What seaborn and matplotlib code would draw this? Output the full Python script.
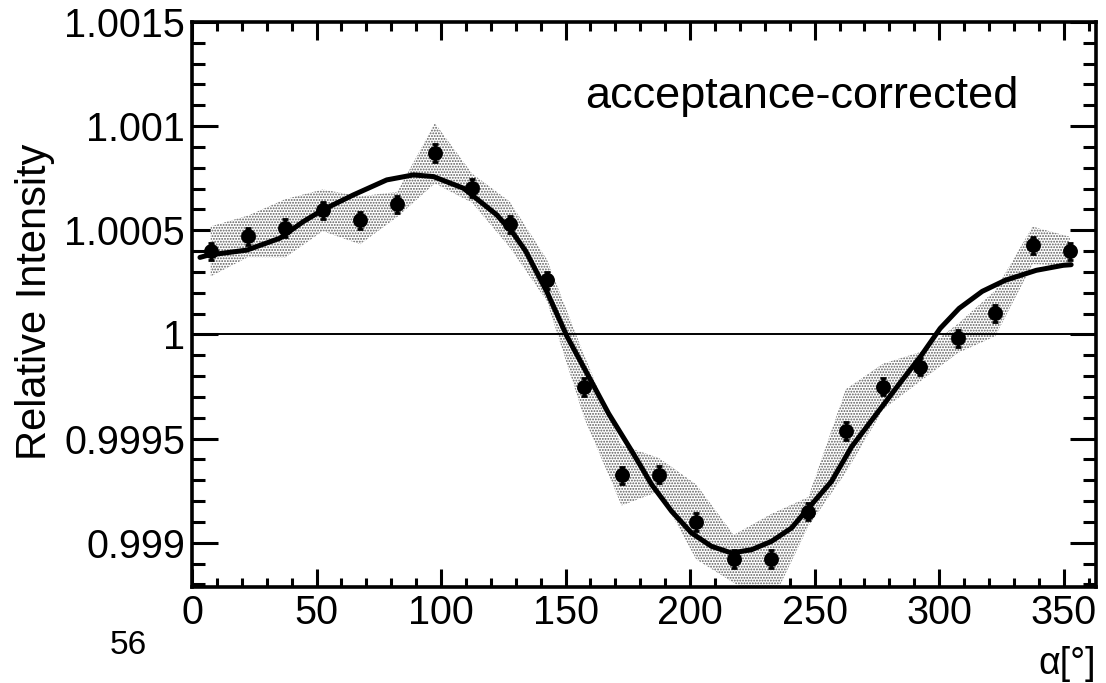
import matplotlib
matplotlib.use("Agg")
import matplotlib.pyplot as plt
import numpy as np
import pandas as pd
import seaborn as sns
from matplotlib.ticker import MultipleLocator, FixedLocator, FixedFormatter

# Measured relative intensity per 15-degree bin in alpha
alpha_deg = [7.5, 22.5, 37.5, 52.5, 67.5, 82.5, 97.5, 112.5, 127.5, 142.5, 157.5, 172.5,
             187.5, 202.5, 217.5, 232.5, 247.5, 262.5, 277.5, 292.5, 307.5, 322.5, 337.5, 352.5]
intensity = [1.000399, 1.000471, 1.000510, 1.000596, 1.000548, 1.000625, 1.000870, 1.000702,
             1.000529, 1.000260, 0.999749, 0.999324, 0.999327, 0.999100, 0.998923, 0.998923,
             0.999150, 0.999537, 0.999750, 0.999846, 0.999981, 1.000101, 1.000428, 1.000399]
stat_err = [0.000042, 0.000042, 0.000042, 0.000042, 0.000042, 0.000042, 0.000042, 0.000042,
            0.000042, 0.000042, 0.000042, 0.000042, 0.000042, 0.000042, 0.000042, 0.000042,
            0.000042, 0.000042, 0.000042, 0.000042, 0.000042, 0.000042, 0.000042, 0.000042]
sys_err = [0.000120, 0.000100, 0.000140, 0.000100, 0.000115, 0.000060, 0.000145, 0.000070,
           0.000110, 0.000100, 0.000150, 0.000145, 0.000080, 0.000180, 0.000115, 0.000215,
           0.000070, 0.000200, 0.000110, 0.000070, 0.000070, 0.000110, 0.000090, 0.000070]

# Fitted curve, sampled along alpha
fit_alpha = [3.2, 6.5, 22.0, 35.3, 44.7, 52.5, 64.8, 78.2, 88.9, 96.9, 109.0, 122.4, 129.0,
             134.0, 142.5, 150.6, 159.3, 167.3, 176.6, 184.6, 192.6, 200.6, 208.6, 216.7,
             224.7, 232.7, 240.7, 248.7, 256.8, 264.8, 274.3, 283.5, 292.8, 300.4, 308.0,
             317.3, 326.5, 339.0, 349.8, 353.0]
fit_value = [1.000370, 1.000381, 1.000405, 1.000462, 1.000542, 1.000598, 1.000670, 1.000742,
             1.000766, 1.000758, 1.000702, 1.000574, 1.000485, 1.000400, 1.000205, 0.999990,
             0.999798, 0.999620, 0.999440, 0.999279, 0.999151, 0.999047, 0.998983, 0.998951,
             0.998967, 0.999007, 0.999071, 0.999183, 0.999295, 0.999460, 0.999610, 0.999755,
             0.999899, 1.000029, 1.000125, 1.000207, 1.000260, 1.000308, 1.000332, 1.000335]

y_ticks = [0.999, 0.9995, 1.0, 1.0005, 1.001, 1.0015]
y_tick_labels = ["0.999", "0.9995", "1", "1.0005", "1.001", "1.0015"]
x_ticks = [0, 50, 100, 150, 200, 250, 300, 350]

points = pd.DataFrame({"alpha": alpha_deg, "intensity": intensity,
                       "stat": stat_err, "sys": sys_err})
fit = pd.DataFrame({"alpha": fit_alpha, "value": fit_value})

sns.set_theme(style="ticks")
plt.rcParams["font.family"] = ["Liberation Sans", "DejaVu Sans"]
plt.rcParams["hatch.linewidth"] = 0.9
for key in ["text.color", "axes.labelcolor", "xtick.color", "ytick.color", "axes.edgecolor"]:
    plt.rcParams[key] = "black"

fig = plt.figure(figsize=(11.06, 6.83), dpi=100)
ax = fig.add_axes([0.1736, 0.1406, 0.8174, 0.8272])

# systematic band, stippled
ax.fill_between(points["alpha"], points["intensity"] - points["sys"],
                points["intensity"] + points["sys"],
                facecolor="white", edgecolor="#5a5a5a", hatch="......",
                linewidth=0, zorder=1)

ax.axhline(1.0, color="black", lw=1.4, zorder=2)

sns.lineplot(data=fit, x="alpha", y="value", sort=False, color="black",
             lw=3.6, ax=ax, zorder=3, solid_joinstyle="round", solid_capstyle="round")

ax.errorbar(points["alpha"], points["intensity"], yerr=points["stat"], fmt="none",
            ecolor="black", elinewidth=2.0, capsize=2.5, capthick=2.0, zorder=4)
sns.scatterplot(data=points, x="alpha", y="intensity", color="black", s=115,
                marker="o", edgecolor="black", linewidth=0, ax=ax, zorder=5)

ax.set_xlim(0, 363)
ax.set_ylim(0.998788, 1.0015)

ax.xaxis.set_major_locator(FixedLocator(x_ticks))
ax.xaxis.set_minor_locator(MultipleLocator(10))
ax.yaxis.set_major_locator(FixedLocator(y_ticks))
ax.yaxis.set_major_formatter(FixedFormatter(y_tick_labels))
ax.yaxis.set_minor_locator(MultipleLocator(0.0001))

ax.tick_params(axis="both", which="both", direction="in", top=True, right=True,
               color="black", width=2.2)
ax.tick_params(axis="x", which="major", length=13, labelsize=28.5, pad=5)
ax.tick_params(axis="x", which="minor", length=6.5)
ax.tick_params(axis="y", which="major", length=19, labelsize=28.5, pad=5)
ax.tick_params(axis="y", which="minor", length=9.5)

for side in ["left", "right", "top", "bottom"]:
    ax.spines[side].set_linewidth(2.6)
    ax.spines[side].set_color("black")

ax.set_ylabel("")
ax.set_xlabel("α[°]", fontsize=27, loc="right")
ax.xaxis.set_label_coords(1.0, -0.105)
fig.text(35 / 1106, 1 - 302 / 683, "Relative Intensity", rotation=90,
         ha="center", va="center", fontsize=30)

ax.text(0.9137, 0.8478, "acceptance-corrected", transform=ax.transAxes,
        ha="right", va="baseline", fontsize=32.5)
fig.text(110 / 1106, 1 - 654 / 683, "56", ha="left", va="baseline", fontsize=24)

fig.savefig("out.png", dpi=100)
